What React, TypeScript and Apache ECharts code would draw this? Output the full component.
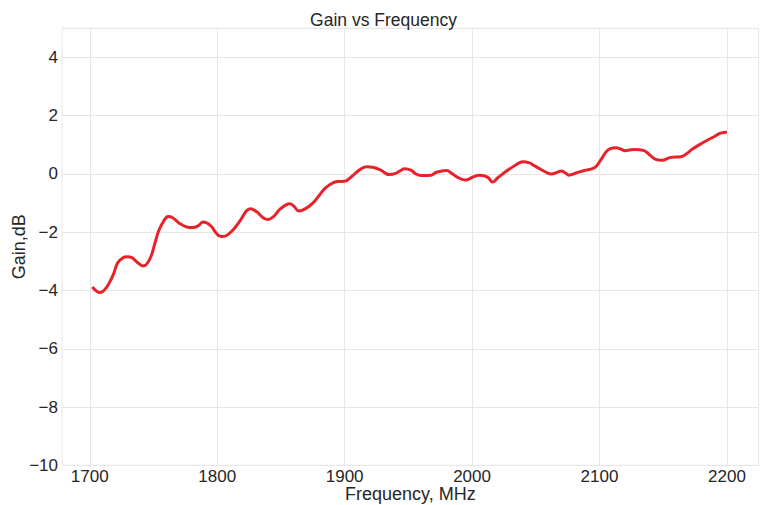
import React, { useEffect, useRef } from "react";
import * as echarts from "echarts";

const freqMHz = [
  1702, 1708, 1713, 1718, 1722, 1726, 1729, 1733, 1737, 1742, 1747, 1751, 1754, 1758, 1761.5, 1765,
  1770, 1776, 1781, 1785, 1789, 1795, 1799, 1803, 1807, 1812, 1818, 1823, 1826, 1831, 1836, 1840,
  1844, 1849, 1854, 1857, 1860, 1864, 1869, 1875, 1880, 1884, 1888, 1894, 1900, 1906, 1911, 1917,
  1922, 1928, 1935, 1940, 1944, 1947, 1952, 1956, 1960, 1968, 1972, 1980, 1984, 1988, 1995, 2000,
  2006, 2010, 2013, 2016, 2020, 2027, 2034, 2040, 2045, 2049, 2053, 2058, 2062, 2066, 2070, 2073,
  2076, 2082, 2088, 2096, 2101, 2105, 2108, 2113, 2117, 2120, 2127, 2135, 2139, 2144, 2149, 2156,
  2164, 2170, 2173, 2181, 2189, 2195, 2200,
];

const gainDb = [
  -3.88, -4.07, -3.9, -3.5, -3.04, -2.88, -2.84, -2.87, -3.02, -3.16, -2.93, -2.4, -1.96, -1.62, -1.46, -1.5,
  -1.68, -1.82, -1.84, -1.78, -1.65, -1.78, -2.02, -2.15, -2.12, -1.94, -1.6, -1.26, -1.19, -1.3, -1.5, -1.56,
  -1.47, -1.22, -1.06, -1.02, -1.1, -1.27, -1.2, -1.0, -0.74, -0.52, -0.38, -0.26, -0.25, -0.07, 0.12, 0.25,
  0.23, 0.14, -0.02, 0.02, 0.12, 0.18, 0.13, 0.0, -0.05, -0.04, 0.06, 0.12, 0.02, -0.1, -0.21, -0.12,
  -0.04, -0.07, -0.14, -0.28, -0.14, 0.1, 0.3, 0.42, 0.38, 0.28, 0.18, 0.06, 0.0, 0.04, 0.1, 0.04,
  -0.04, 0.04, 0.12, 0.21, 0.48, 0.75, 0.86, 0.9, 0.85, 0.8, 0.84, 0.8, 0.67, 0.5, 0.47, 0.57,
  0.59, 0.75, 0.86, 1.07, 1.26, 1.4, 1.43,
];

const xTickValues = [1700, 1800, 1900, 2000, 2100, 2200];

const TEXT = "#262626";
const GRID = "#e6e6e6";
const FONT = "'Liberation Sans', Arial, sans-serif";

export default function App() {
  const ref = useRef<HTMLDivElement>(null);

  useEffect(() => {
    if (!ref.current) return;
    document.body.style.margin = "0";
    const chart = echarts.init(ref.current, null, { renderer: "svg" });
    const points = freqMHz.map((f, i) => [f, gainDb[i]]);
    chart.setOption({
      animation: false,
      backgroundColor: "#ffffff",
      textStyle: { fontFamily: FONT },
      title: {
        text: "Gain vs Frequency",
        left: "center",
        top: 6,
        textStyle: { fontSize: 17.5, fontWeight: "normal", color: TEXT, fontFamily: FONT },
      },
      grid: {
        left: 62,
        right: 8.4,
        top: 28.3,
        bottom: 39.7,
        containLabel: false,
        outerBoundsMode: "none",
        show: true,
        borderColor: GRID,
        borderWidth: 1,
        backgroundColor: "#ffffff",
      },
      xAxis: {
        type: "value",
        min: 1678.2,
        max: 2224.85,
        name: "Frequency, MHz",
        nameLocation: "middle",
        nameGap: 19.5,
        nameMoveOverlap: false,
        nameTextStyle: { fontSize: 18, color: TEXT, fontFamily: FONT },
        axisLine: { show: false },
        axisTick: { show: false },
        splitLine: { show: false },
        axisLabel: {
          customValues: xTickValues,
          fontSize: 17,
          color: TEXT,
          margin: 3,
          fontFamily: FONT,
          formatter: (v: number) => String(v),
        },
      },
      yAxis: {
        type: "value",
        min: -10,
        max: 5,
        interval: 2,
        name: "Gain,dB",
        nameLocation: "middle",
        nameGap: 34,
        nameMoveOverlap: false,
        nameTextStyle: { fontSize: 18, color: TEXT, fontFamily: FONT },
        axisLine: { show: false },
        axisTick: { show: false },
        splitLine: { show: true, lineStyle: { color: GRID, width: 1 } },
        axisLabel: {
          fontSize: 17,
          color: TEXT,
          margin: 4,
          showMaxLabel: false,
          fontFamily: FONT,
          formatter: (v: number) => (v < 0 ? "\u2212" + Math.abs(v) : String(v)),
        },
      },
      series: [
        {
          type: "line",
          data: [],
          silent: true,
          z: 1,
          markLine: {
            silent: true,
            z: 1,
            symbol: ["none", "none"],
            label: { show: false },
            lineStyle: { color: GRID, width: 1, type: "solid" },
            data: xTickValues.map((v) => ({ xAxis: v })),
          },
        },
        {
          type: "line",
          data: points,
          smooth: 0.4,
          showSymbol: false,
          z: 10,
          lineStyle: { color: "#e8222a", width: 3 },
          itemStyle: { color: "#e8222a" },
        },
      ],
    });
    return () => chart.dispose();
  }, []);

  return (
    <div
      ref={ref}
      style={{ position: "fixed", left: 0, top: 0, width: 767, height: 505 }}
    />
  );
}
